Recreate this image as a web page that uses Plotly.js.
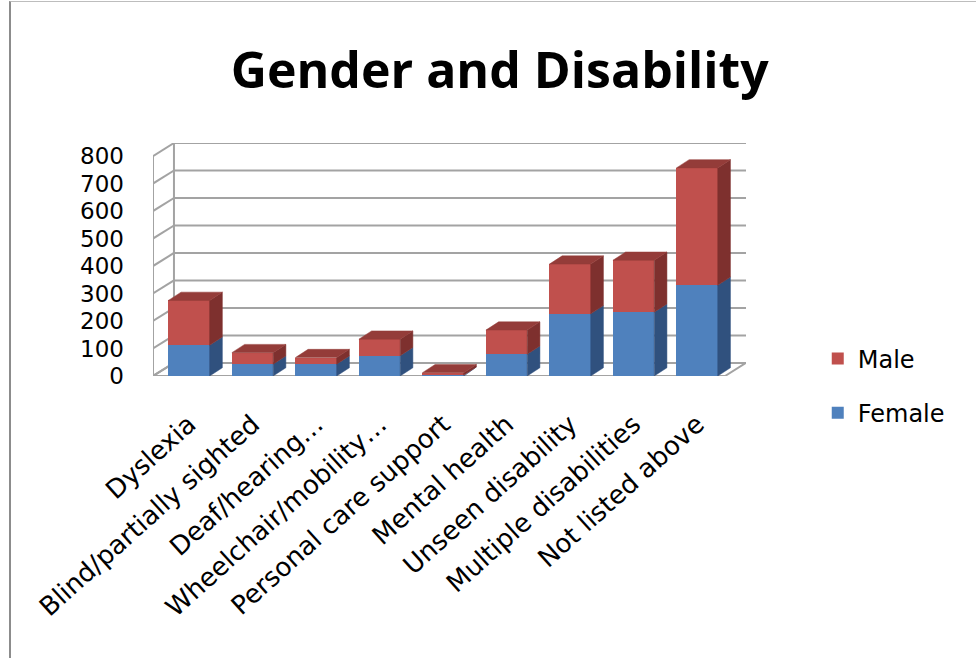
<!DOCTYPE html>
<html>
<head>
<meta charset="utf-8">
<script src="https://cdn.plot.ly/plotly-3.0.1.min.js"></script>
<style>
html,body{margin:0;padding:0;background:#fff;}
#chart{width:976px;height:658px;position:relative;}
#frame{position:absolute;left:9px;top:1px;width:1000px;height:700px;border-left:2px solid #8c8c8c;border-top:1px solid #bdbdbd;pointer-events:none;}
</style>
</head>
<body>
<div id="chart"></div>
<div id="frame"></div>
<script>
// ---- data ----
const categories = ["Dyslexia","Blind/partially sighted","Deaf/hearing\u2026","Wheelchair/mobility\u2026","Personal care support","Mental health","Unseen disability","Multiple disabilities","Not listed above"];
const female = [112, 43, 43, 74, 3, 79, 226, 232, 330];
const male   = [163, 42, 24, 60, 9, 88, 181, 189, 427];
const yTicks = [0,100,200,300,400,500,600,700,800];
const seriesNames = ["Female","Male"];

// ---- style / geometry ----
const colFront = ["#4F81BD","#C0504D"];
const colSide  = ["#30517E","#7E302E"];
const colTop   = ["#3D659A","#943C39"];
const legendRank = [2, 1];
const barW = 0.65;
const xFront0 = -0.567, xFront1 = 8.44;
const wallDx = 0.33, wallDy = 47.5;   // depth of the 3D walls (axis units)
const barDx = 0.2, barDy = 30;       // depth of the 3D bars (axis units)
const yMax = 800;

const xs = categories.map((c,i)=>i);
const traces = [];
// front faces via stacked bars
[female, male].forEach((vals, s) => {
  traces.push({
    type:'bar', name:seriesNames[s], x:xs, y:vals, width:barW,
    marker:{color:colFront[s], line:{width:0}},
    legendgroup:seriesNames[s], legendrank:legendRank[s], hoverinfo:'skip'
  });
});
// side & top faces
function poly(px, py, color){
  traces.push({type:'scatter', mode:'lines', x:px, y:py, fill:'toself', fillcolor:color,
    line:{color:color, width:0.5}, showlegend:false, hoverinfo:'skip'});
}
xs.forEach(i => {
  const x1 = i + barW/2, x0 = i - barW/2;
  let base = 0;
  [female, male].forEach((vals, s) => {
    const top = base + vals[i];
    poly([x1, x1+barDx, x1+barDx, x1, x1], [base, base+barDy, top+barDy, top, base], colSide[s]);
    base = top;
  });
  poly([x0, x0+barDx, x1+barDx, x1, x0], [base, base+barDy, base+barDy, base, base], colTop[1]);
});

// walls (derived from tick values)
const shapes = [];
const grid = {color:'#a3a3a3', width:2};
shapes.push({type:'path', layer:'below', xref:'x', yref:'y',
  path:`M${xFront0},0 L${xFront1},0 L${xFront1+wallDx},${wallDy} L${xFront0+wallDx},${wallDy} Z`,
  line:{color:'#a3a3a3', width:2}, fillcolor:'#ffffff'});
yTicks.forEach(v => {
  shapes.push({type:'line', layer:'below', xref:'x', yref:'y', x0:xFront0, y0:v, x1:xFront0+wallDx, y1:v+wallDy, line:grid});
  if (v>0) shapes.push({type:'line', layer:'below', xref:'x', yref:'y', x0:xFront0+wallDx, y0:v+wallDy, x1:xFront1+wallDx, y1:v+wallDy, line:grid});
});
shapes.push({type:'line', layer:'below', xref:'x', yref:'y', x0:xFront0, y0:0, x1:xFront0, y1:yMax, line:grid});
shapes.push({type:'line', layer:'below', xref:'x', yref:'y', x0:xFront0+wallDx, y0:wallDy, x1:xFront0+wallDx, y1:yMax+wallDy, line:grid});

const titleFont = '"Open Sans", "Noto Sans", sans-serif';
const textFont = '"DejaVu Sans", "Open Sans", sans-serif';
const layout = {
  width:976, height:658,
  margin:{l:153, r:230, t:143, b:282},
  paper_bgcolor:'#ffffff', plot_bgcolor:'rgba(0,0,0,0)',
  barmode:'stack',
  showlegend:true,
  title:{text:'Gender and Disability', xref:'container', yref:'container', x:0.512, y:0.893,
    xanchor:'center', yanchor:'middle',
    font:{family:titleFont, size:50, color:'#000', weight:'bold'}},
  xaxis:{range:[xFront0, xFront1+wallDx], tickvals:xs, ticktext:categories, tickangle:-42,
    showgrid:false, zeroline:false, showline:false, ticks:'', ticklabelstandoff:27,
    tickfont:{family:textFont, size:26, color:'#000'}, fixedrange:true},
  yaxis:{range:[0, yMax+wallDy], tickvals:yTicks, ticktext:yTicks.map(String),
    showgrid:false, zeroline:false, showline:false, ticks:'', ticklabelstandoff:28,
    tickfont:{family:textFont, size:23, color:'#000'}, fixedrange:true},
  legend:{x:1.121, xanchor:'left', y:0.17, yanchor:'top', traceorder:'grouped',
    tracegroupgap:20, font:{family:textFont, size:24, color:'#000'}, bgcolor:'rgba(0,0,0,0)'},
  shapes:shapes
};
Plotly.newPlot('chart', traces, layout, {displayModeBar:false, staticPlot:true});
</script>
</body>
</html>
